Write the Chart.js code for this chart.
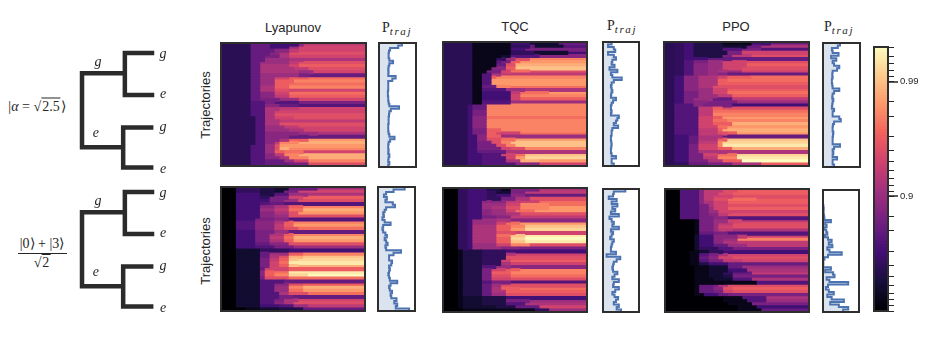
<!DOCTYPE html>
<html lang="en">
<head>
<meta charset="UTF-8">
<title>Trajectories heatmaps</title>
<script src="https://cdn.jsdelivr.net/npm/chart.js"></script>
<style>
  html, body { margin: 0; background: #fff; }
  body { position: relative; width: 926px; height: 343px; overflow: hidden; color: #262626; }
  canvas { position: absolute; }
  canvas.soft { filter: blur(0.7px); }
  .label { position: absolute; white-space: nowrap; transform: translate(-50%, -50%); font: 13px "Liberation Sans", Arial, sans-serif; }
  .vert { transform: translate(-50%, -50%) rotate(-90deg); }
  .math { font-family: "Liberation Serif", serif; font-size: 14px; }
  .math sub { font-style: italic; font-size: 11px; letter-spacing: 1.6px; vertical-align: -3px; line-height: 0; }
  .root { border-top: 1px solid #262626; padding: 0 1px; }
  .rule { position: absolute; height: 1px; background: #262626; }
</style>
</head>
<body>
<div class="label" style="left:293px;top:27px">Lyapunov</div>
<div class="label" style="left:515px;top:26px">TQC</div>
<div class="label" style="left:736px;top:26px">PPO</div>
<div class="label math" style="left:397px;top:28px">P<sub>traj</sub></div>
<div class="label math" style="left:622px;top:26px">P<sub>traj</sub></div>
<div class="label math" style="left:839px;top:27px">P<sub>traj</sub></div>
<div class="label vert" style="left:205px;top:105px">Trajectories</div>
<div class="label vert" style="left:205px;top:251px">Trajectories</div>
<div class="label math" style="left:37px;top:106px">|<i>α</i> = √<span class="root">2.5</span>⟩</div>
<div class="label math" style="left:42px;top:243px">|0⟩ + |3⟩</div>
<div class="rule" style="left:18px;top:253px;width:49px"></div>
<div class="label math" style="left:42px;top:263px">√<span class="root">2</span></div>

<script>
// each row is level,endColumn pairs, level is -10*log10(1-F)
const heatLyapunovAlpha = [
  [3.6,6,7,10,5,16,9,17,12,30],[3.6,6,7,10,5,14,10,16,13,30],[3.6,6,7,11,9,14,12,16,13,30],[3.6,6,7,10,9,12,11,14,14,30],
  [3.6,6,7,9,8,12,11,14,13,30],[3.6,6,7,9,10,14,11,17,11,30],[3.6,6,7,8,10,14,12,16,14,30],[3.6,6,7,8,11,14,13,16,15,30],
  [3.6,6,7,8,11,15,12,18,14,30],[3.6,6,7,8,11,16,10,19,13,30],[3.6,6,7,8,10,16,8,18,7,30],[3.6,6,7,8,10,11,13,14,15,18,16,30],
  [3.6,6,7,8,10,11,15,15,17,30],[3.6,6,7,8,10,11,15,14,16,30],[3.6,6,7,8,11,11,15,14,17,30],[3.6,6,7,8,11,11,14,14,13,30],
  [3.6,6,7,8,9,11,13,14,16,30],[3.6,6,7,8,9,11,12,14,15,30],[3.6,6,7,8,8,12,10,16,13,30],[3.6,6,6,9,8,11,6,16,8,30],
  [3.6,6,6,9,9,12,7,16,6,30],[3.6,6,6,9,11,12,12,16,13,30],[3.6,6,6,9,11,11,13,30],[3.6,6,6,9,11,11,14,30],
  [3.6,7,6,9,11,11,13,15,14,30],[3.6,7,6,9,11,12,12,30],[3.6,7,6,9,11,12,14,30],[3.6,7,6,9,10,13,12,16,13,30],
  [3.6,7,6,9,10,14,11,17,13,30],[3.6,7,6,9,9,16,10,20,11,30],[3.6,7,6,9,9,14,7,18,7,30],[3.6,7,6,9,9,12,11,14,15,18,18,30],
  [3.6,7,6,9,9,11,12,12,17,16,19,30],[3.6,6,6,9,10,11,14,12,18,30],[3.6,6,6,9,10,11,14,12,19,14,17,30],[3.6,6,6,9,10,11,15,13,16,17,13,30],
  [3.6,6,6,9,9,11,12,13,17,16,19,30],[3.6,6,6,9,9,12,11,14,17,18,19,30],[3.6,6,6,9,7,13,10,15,13,18,17,30],[3.6,6,6,9,7,14,8,18,14,30]
];
const heatTqcAlpha = [
  [3.6,6,1,14,5,18,2,24,7,30],[3.6,6,1,14,4,18,7,19,2,25,6,30],[3.6,6,1,14,5,17,8,30],[3.6,6,1,14,4,19,2,26,5,30],
  [3.6,6,1,12,2,14,6,20,9,30],[3.6,6,1,11,4,13,10,15,14,18,17,30],[3.6,6,1,11,6,12,8,14,15,16,18,30],[3.6,6,1,11,7,13,14,15,19,30],
  [3.6,6,1,10,9,13,15,15,20,30],[3.6,6,1,9,8,12,13,14,16,18,14,30],[3.6,6,1,8,6,10,11,12,12,30],[3.6,6,1,8,6,10,15,11,17,30],
  [3.6,6,1,8,6,10,18,30],[3.6,6,1,8,6,10,18,30],[3.6,6,1,8,7,11,17,14,16,30],[3.6,6,1,8,6,13,10,17,11,30],
  [3.6,6,1,8,5,14,12,16,16,22,18,30],[3.6,6,1,8,5,14,13,16,17,30],[3.6,6,1,8,5,14,13,16,15,30],[3.6,6,1,8,6,14,10,30],
  [3.6,5,5,6,7,9,17,30],[3.6,5,5,6,7,9,17,30],[3.6,5,5,6,8,9,17,30],[3.6,5,5,6,8,9,17,30],
  [3.6,5,5,6,9,9,16,30],[3.6,5,5,6,9,9,17,30],[3.6,5,5,6,9,9,17,30],[3.6,5,5,6,9,9,17,30],
  [3.6,5,5,6,8,9,15,12,17,30],[3.6,5,5,6,8,9,15,11,13,16,16,30],[3.6,5,5,7,9,9,15,12,10,30],[3.6,5,5,7,9,9,14,12,16,15,18,30],
  [3.6,5,5,7,8,10,14,12,17,14,20,30],[3.6,5,5,7,8,11,14,13,17,15,20,30],[3.6,5,5,7,8,12,13,14,14,17,17,30],[3.6,5,5,7,7,13,11,30],
  [3.6,5,5,8,6,12,13,15,16,17,20,30],[3.6,5,5,8,6,13,13,15,18,17,21,30],[3.6,5,5,8,6,13,11,16,19,20,18,30],[3.6,5,5,8,6,15,9,20,13,30]
];
const heatPpoAlpha = [
  [3.6,2,4,4,5,6,3,12,1,18,5,22,7,30],[3.6,2,4,4,5,6,3,12,2,17,7,20,11,30],[3.6,2,4,4,5,6,3,12,6,16,8,20,6,30],[3.6,2,4,4,5,6,3,13,8,16,13,30],
  [3.6,2,4,4,5,6,3,12,8,14,12,18,14,30],[3.6,2,4,4,5,6,5,9,7,14,7,30],[3.6,2,4,4,6,6,8,9,10,12,13,17,14,30],[3.6,2,4,4,6,6,9,9,10,12,13,17,15,30],
  [3.6,2,4,4,6,6,9,9,10,12,13,16,14,30],[3.6,2,4,4,6,6,9,9,10,11,11,13,10,16,13,30],[3.6,2,4,4,6,6,9,9,10,11,9,13,7,30],[3.6,2,5,4,9,7,11,11,13,13,15,18,16,30],
  [3.6,2,5,4,9,7,11,11,15,13,16,30],[3.6,2,5,4,9,7,11,11,15,30],[3.6,2,5,4,9,7,11,10,14,30],[3.6,2,5,4,9,7,10,10,13,13,15,30],
  [3.6,2,5,4,8,7,10,10,13,13,16,30],[3.6,2,5,4,8,7,10,11,12,14,15,30],[3.6,2,5,4,8,6,10,10,7,14,12,30],[3.6,2,5,4,8,6,9,9,8,15,10,30],
  [3.6,2,6,6,9,8,8,14,5,30],[3.6,2,6,7,12,10,15,12,14,30],[3.6,2,6,7,12,10,16,30],[3.6,2,6,7,12,10,17,30],
  [3.6,2,6,7,13,10,15,12,18,30],[3.6,2,6,7,13,10,16,13,17,30],[3.6,2,6,7,13,10,15,14,19,30],[3.6,2,6,7,13,11,16,13,18,30],
  [3.6,2,6,7,12,11,15,12,19,30],[3.6,2,6,7,12,11,14,13,15,15,18,30],[3.6,2,5,5,7,7,11,12,7,30],[3.6,2,5,5,7,7,11,11,15,13,20,30],
  [3.6,2,5,5,7,7,12,11,17,12,21,30],[3.6,2,5,5,8,7,13,11,17,12,22,30],[3.6,2,5,5,8,7,13,11,15,14,19,30],[3.6,2,5,5,8,7,11,13,11,30],
  [3.6,2,5,5,8,8,13,11,16,15,21,30],[3.6,2,5,5,8,8,12,11,17,15,22,30],[3.6,2,5,5,8,9,11,12,15,16,23,30],[3.6,2,4,5,7,9,8,14,11,20,15,30]
];
const heatLyapunovCat = [
  [0,3,4,8,3,11,2,14,7,20,10,30],[0,3,4,8,3,11,2,13,8,16,13,30],[0,3,5,8,3,11,6,14,10,18,11,30],[0,3,5,8,4,10,8,14,13,17,15,30],
  [0,3,5,8,5,10,8,13,10,16,14,30],[0,3,5,8,6,10,7,13,6,30],[0,3,5,8,9,11,11,14,15,17,17,30],[0,3,5,8,10,11,12,14,16,17,19,30],
  [0,3,5,8,9,11,11,14,14,16,18,30],[0,3,5,8,9,11,10,14,14,30],[0,3,5,7,8,11,9,14,6,30],[0,3,6,7,9,11,11,13,15,15,17,30],
  [0,3,6,7,9,11,12,13,15,15,18,30],[0,3,6,7,9,11,12,13,14,16,16,30],[0,3,5,7,8,11,10,14,7,30],[0,3,5,7,8,10,11,13,15,15,17,30],
  [0,3,5,7,8,10,12,13,16,15,19,30],[0,3,5,7,8,10,11,13,15,15,18,30],[0,3,5,7,7,10,9,14,14,30],[0,3,5,7,6,11,8,15,10,30],
  [0,3,2,8,4,14,5,30],[0,3,2,8,7,10,10,14,15,17,17,30],[0,3,2,8,7,10,11,12,14,14,19,17,20,30],[0,3,2,8,8,10,12,12,15,14,20,16,21,30],
  [0,3,2,8,8,10,13,12,16,14,22,30],[0,3,2,8,8,10,13,12,15,14,20,16,19,30],[0,3,2,8,7,9,13,14,15,30],[0,3,2,8,9,9,15,11,16,14,22,30],
  [0,3,2,8,9,9,15,11,17,14,21,18,23,30],[0,3,2,8,8,9,14,14,16,30],[0,3,2,8,6,13,7,30],[0,3,2,8,6,11,9,14,14,17,15,30],
  [0,3,2,8,6,11,10,14,17,17,19,30],[0,3,2,8,6,11,10,14,16,17,18,30],[0,3,2,8,6,12,11,14,14,18,16,30],[0,3,2,8,6,12,8,15,7,30],
  [0,3,2,8,6,11,8,13,11,16,13,30],[0,3,2,8,6,11,9,13,11,15,14,30],[0,3,2,8,5,12,6,15,10,18,12,30],[0,5,1,8,2,12,3,17,7,30]
];
const heatTqcCat = [
  [0,3,4,5,5,9,3,12,1,14,8,20,11,30],[0,3,4,5,5,9,4,11,2,14,8,17,12,30],[0,3,4,5,5,9,4,11,5,14,9,17,7,30],[0,3,4,5,5,9,4,12,8,15,11,18,14,30],
  [0,3,4,5,5,8,9,10,9,13,12,16,13,20,16,30],[0,3,4,5,5,8,10,10,10,13,13,16,17,22,16,30],[0,3,4,5,5,8,10,10,11,13,14,16,17,22,18,30],[0,3,4,5,5,8,9,10,10,13,13,15,16,19,18,30],
  [0,3,4,5,5,8,9,10,10,13,11,16,14,30],[0,3,4,5,5,8,8,11,9,14,12,30],[0,3,4,5,5,6,10,11,11,14,9,30],[0,3,4,5,5,6,10,11,13,13,16,16,18,30],
  [0,3,4,5,5,6,11,11,15,14,17,17,20,30],[0,3,4,5,5,6,11,11,15,14,18,17,21,30],[0,3,4,5,5,6,11,11,14,15,13,30],[0,3,4,5,5,6,11,11,16,14,20,17,22,30],
  [0,3,4,5,5,6,11,11,15,14,21,17,23,30],[0,3,4,5,5,6,11,11,15,14,20,17,22,30],[0,3,4,5,5,6,10,11,13,14,17,18,14,30],[0,3,4,5,5,6,10,12,9,16,8,30],
  [0,3,1,4,3,8,4,13,5,30],[0,3,1,4,3,8,4,13,11,15,13,30],[0,3,1,4,3,8,4,13,14,30],[0,3,1,4,3,8,4,12,13,14,15,30],
  [0,3,1,4,3,8,4,12,11,14,13,30],[0,3,1,4,3,8,6,11,10,14,9,30],[0,3,1,4,3,8,8,10,13,13,15,16,17,30],[0,3,1,4,3,8,8,10,15,14,17,30],
  [0,3,1,4,3,8,8,10,14,14,16,30],[0,3,1,4,3,8,8,10,13,14,14,30],[0,3,1,4,3,8,6,10,8,14,6,30],[0,3,1,4,3,8,7,10,10,12,14,30],
  [0,3,1,4,3,8,7,10,11,12,15,16,16,30],[0,3,1,4,3,8,7,10,11,13,15,30],[0,3,1,4,3,8,7,10,10,13,14,30],[0,3,1,4,2,8,3,13,5,30],
  [0,3,1,4,2,8,3,13,8,18,10,30],[0,3,1,4,2,8,3,13,6,17,11,30],[0,3,1,4,2,11,3,15,7,20,13,30],[0,4,1,14,1,19,4,22,10,30]
];
const heatPpoCat = [
  [0,3,6,7,9,8,12,12,14,15,15,30],[0,3,6,7,9,8,12,11,14,14,15,30],[0,3,6,7,9,8,12,10,13,14,14,30],[0,3,6,7,9,8,12,10,14,13,16,19,15,30],
  [0,3,6,7,9,8,11,10,13,13,15,30],[0,3,6,7,8,9,11,10,13,13,14,30],[0,3,6,7,8,9,10,10,13,13,15,30],[0,3,6,7,8,9,10,11,13,14,13,30],
  [0,3,6,7,8,9,9,11,12,13,14,30],[0,3,6,7,8,10,9,13,6,30],[0,6,1,7,8,10,10,13,13,16,12,30],[0,6,1,7,8,10,10,11,12,14,14,30],
  [0,6,1,7,8,10,10,11,13,14,14,30],[0,6,1,7,8,10,10,11,12,14,11,30],[0,6,1,7,7,10,8,13,6,30],[0,6,2,7,5,10,9,15,12,17,13,30],
  [0,6,2,7,5,10,9,12,10,15,17,30],[0,6,2,7,5,10,9,12,11,15,12,30],[0,6,2,7,5,10,7,13,10,17,12,30],[0,6,2,7,4,11,6,14,8,30],
  [0,5,1,7,2,9,4,12,5,30],[0,5,1,7,6,9,8,11,11,13,13,30],[0,5,1,7,7,9,9,11,13,14,14,30],[0,5,1,7,6,9,8,12,12,16,13,30],
  [0,5,1,7,3,9,5,13,7,30],[0,6,1,9,2,13,7,16,10,30],[0,6,1,9,2,13,5,17,11,30],[0,6,1,9,2,12,4,14,7,18,12,30],
  [0,6,1,9,2,12,3,14,8,30],[0,6,1,10,2,14,6,18,11,30],[0,6,1,12,1,19,6,30],[0,6,1,7,7,10,8,11,11,13,14,30],
  [0,6,1,7,7,10,9,12,14,14,15,30],[0,6,1,7,7,10,8,12,13,14,14,30],[0,6,1,8,5,11,7,13,8,30],[0,12,1,16,6,21,11,30],
  [0,12,1,17,6,21,10,30],[0,13,1,18,8,30],[0,15,1,19,5,30],[0,15,1,20,7,30]
];

// P_traj profiles, top row to bottom row
const ptrajLyapunovAlpha = [62,52,30,27,26,26,28,38,28,26,25,26,25,45,36,25,25,25,25,24,24,25,25,26,28,54,32,28,27,26,26,26,25,25,25,26,28,42,30,26,25,25,26,25,28,26,25,28,25,48];
const ptrajTqcAlpha = [24,14,30,34,14,30,36,26,24,32,18,40,22,26,52,30,24,22,24,26,23,22,36,28,24,22,22,24,22,44,40,36,30,42,26,24,24,22,22,23,24,23,22,22,24,36,24,24,30,52];
const ptrajPpoAlpha = [46,40,24,26,42,22,36,26,30,44,38,26,25,26,24,24,25,26,44,30,26,25,28,26,25,24,30,26,26,44,48,30,27,26,26,28,27,26,26,26,46,30,26,28,26,38,26,26,30,44];
const ptrajLyapunovCat = [72,42,22,16,24,20,40,46,22,18,14,16,12,18,34,14,12,14,20,24,18,22,26,20,22,62,42,30,30,38,36,30,32,30,28,30,32,52,34,30,32,38,34,36,50,44,52,48,84,40];
const ptrajTqcCat = [62,30,28,16,38,24,40,26,34,22,44,18,24,30,26,44,22,28,24,20,30,26,24,22,22,36,10,48,38,30,28,26,28,40,32,26,44,30,28,44,34,26,32,42,36,30,44,38,50,46];
const ptrajPpoCat = [0,0,0,0,0,0,1,2,1,2,3,4,22,6,10,4,9,12,5,14,24,16,26,12,18,52,14,4,0,1,0,22,6,28,32,10,18,70,14,8,16,30,12,24,58,20,44,70,56,98];

// colorbar: 1 - F on the log axis, only these two carry a label
const colorbarTicks = [0.01, 0.1];
const colorbarLabels = ['0.99', '0.9'];
const magmaStops = ['#000004','#180f3d','#440f76','#721f81','#9e2f7f','#cd4071','#f1605d','#fd9668','#feca8d','#fcfdbf'];
const levelMax = 23;

// tree diagram, branch units, null breaks the path
const branchX = [1.72,1.02,1.02,1.72,null,1.02,0,0,0.98,null,1.70,0.98,0.98,1.70];
const branchY = [0,0,1,1,null,0.48,0.48,2.24,2.24,null,1.77,1.77,2.72,2.72];
const branchNames = ['g','e','g','e','g','e'];
const branchNameX = [0.38,0.33,1.93,1.93,1.93,1.93];
const branchNameY = [0.21,1.90,0.02,0.98,1.76,2.76];

function hex(c) { return [1, 3, 5].map(i => parseInt(c.substr(i, 2), 16)); }

function levelColor(level) {
  const t = Math.min(level / levelMax, 1) * (magmaStops.length - 1);
  const i = Math.min(Math.floor(t), magmaStops.length - 2);
  const a = hex(magmaStops[i]), b = hex(magmaStops[i + 1]);
  const rgb = a.map((v, k) => Math.round(v + (b[k] - v) * (t - i)));
  return `rgb(${rgb.join(',')})`;
}

// dark box round the axes area
const framePlugin = {
  id: 'frame',
  afterDraw(chart) {
    const a = chart.chartArea, ctx = chart.ctx;
    ctx.save();
    ctx.strokeStyle = '#2e2e2e';
    ctx.lineWidth = 2;
    ctx.strokeRect(a.left, a.top, a.right - a.left, a.bottom - a.top);
    ctx.restore();
  }
};

function addCanvas(left, top, width, height, soft) {
  const c = document.createElement('canvas');
  c.width = width;
  c.height = height;
  c.style.left = left + 'px';
  c.style.top = top + 'px';
  c.style.width = width + 'px';
  c.style.height = height + 'px';
  if (soft) c.className = 'soft';
  document.body.appendChild(c);
  return c;
}

const base = { responsive: false, animation: false, events: [] };

function heatmap(rows, left, top, width, height) {
  const runs = Math.max(...rows.map(r => r.length / 2));
  const datasets = [];
  for (let k = 0; k < runs; k++) {
    datasets.push({
      data: rows.map(r => k * 2 < r.length ? [k ? r[k * 2 - 1] : 0, r[k * 2 + 1]] : null),
      backgroundColor: rows.map(r => k * 2 < r.length ? levelColor(r[k * 2]) : 'transparent'),
      borderWidth: 0,
      inflateAmount: 0.5,
      categoryPercentage: 1,
      barPercentage: 1,
      grouped: false
    });
  }
  new Chart(addCanvas(left - 2, top - 2, width + 4, height + 4, true), {
    type: 'bar',
    data: { labels: rows.map((r, i) => i), datasets },
    plugins: [framePlugin],
    options: {
      ...base,
      indexAxis: 'y',
      layout: { padding: 2 },
      plugins: { legend: { display: false }, tooltip: { enabled: false } },
      scales: {
        x: { display: false, min: 0, max: 30 },
        y: { display: false }
      }
    }
  });
}

function ptraj(values, left, top, width, height) {
  new Chart(addCanvas(left - 2, top - 2, width + 4, height + 4, false), {
    type: 'line',
    data: {
      labels: values.map((v, i) => i),
      datasets: [{
        data: values,
        borderColor: '#4c72b0',
        borderWidth: 2,
        backgroundColor: 'rgba(76,114,176,0.2)',
        fill: { value: 0 },
        stepped: 'after',
        pointRadius: 0
      }]
    },
    plugins: [framePlugin],
    options: {
      ...base,
      indexAxis: 'y',
      layout: { padding: 2 },
      plugins: { legend: { display: false }, tooltip: { enabled: false } },
      scales: {
        x: { display: false, min: 0, max: 100 },
        y: { display: false }
      }
    }
  });
}

function tree(top) {
  const names = {
    id: 'names',
    afterDraw(chart) {
      const ctx = chart.ctx;
      ctx.save();
      ctx.font = 'italic 14px "Liberation Serif", serif';
      ctx.fillStyle = '#262626';
      ctx.textAlign = 'center';
      ctx.textBaseline = 'middle';
      branchNames.forEach((n, i) => {
        ctx.fillText(n, chart.scales.x.getPixelForValue(branchNameX[i]), chart.scales.y.getPixelForValue(branchNameY[i]));
      });
      ctx.restore();
    }
  };
  new Chart(addCanvas(70, top, 110, 140, false), {
    type: 'scatter',
    data: {
      datasets: [{
        data: branchX.map((x, i) => ({ x, y: branchY[i] })),
        showLine: true,
        borderColor: '#2b2b2b',
        borderWidth: 4.5,
        borderJoinStyle: 'miter',
        pointRadius: 0,
        spanGaps: false
      }]
    },
    plugins: [names],
    options: {
      ...base,
      plugins: { legend: { display: false }, tooltip: { enabled: false } },
      scales: {
        x: { display: false, min: -0.286, max: 2.333 },
        y: { display: false, min: -0.31, max: 3.02, reverse: true }
      }
    }
  });
}

function colorbar() {
  const datasets = [];
  for (let d = 0; d < levelMax; d += 0.25) {
    datasets.push({
      data: [[Math.pow(10, -d / 10), Math.pow(10, -(d + 0.3) / 10)]],
      backgroundColor: levelColor(d + 0.125),
      borderWidth: 0,
      grouped: false,
      categoryPercentage: 1,
      barPercentage: 1
    });
  }
  const longTicks = {
    id: 'longTicks',
    afterDraw(chart) {
      const ctx = chart.ctx, s = chart.scales.y;
      ctx.save();
      ctx.strokeStyle = '#262626';
      ctx.lineWidth = 1.5;
      colorbarTicks.forEach(v => {
        const y = Math.round(s.getPixelForValue(v));
        ctx.beginPath();
        ctx.moveTo(s.left, y);
        ctx.lineTo(s.left + 10, y);
        ctx.stroke();
      });
      ctx.restore();
    }
  };
  new Chart(addCanvas(870, 40, 56, 280, false), {
    type: 'bar',
    data: { labels: ['F'], datasets },
    plugins: [framePlugin, longTicks],
    options: {
      ...base,
      layout: { padding: { left: 4, top: 7, bottom: 9 } },
      plugins: { legend: { display: false }, tooltip: { enabled: false } },
      scales: {
        x: { display: false },
        y: {
          type: 'logarithmic',
          position: 'right',
          reverse: true,
          min: 0.005,
          max: 1,
          afterFit(s) { s.width = 38; s.paddingTop = 0; s.paddingBottom = 0; },
          border: { display: false },
          grid: { drawOnChartArea: false, tickLength: 6, tickColor: '#262626', tickWidth: 1 },
          ticks: {
            autoSkip: false,
            maxRotation: 0,
            padding: 6,
            color: '#262626',
            font: { family: '"Liberation Sans", Arial, sans-serif', size: 9.5 },
            callback(v) {
              const i = colorbarTicks.findIndex(t => Math.abs(t - v) < t * 0.01);
              return i < 0 ? '' : colorbarLabels[i];
            }
          }
        }
      }
    }
  });
}

tree(40);
tree(179);
heatmap(heatLyapunovAlpha, 221, 43, 145, 123);
heatmap(heatTqcAlpha, 443, 42, 144, 124);
heatmap(heatPpoAlpha, 664, 42, 145, 124);
heatmap(heatLyapunovCat, 221, 187, 144, 124);
heatmap(heatTqcCat, 443, 188, 144, 124);
heatmap(heatPpoCat, 665, 189, 144, 123);
ptraj(ptrajLyapunovAlpha, 379, 43, 37, 124);
ptraj(ptrajTqcAlpha, 603, 42, 36, 124);
ptraj(ptrajPpoAlpha, 823, 43, 37, 124);
ptraj(ptrajLyapunovCat, 378, 187, 37, 124);
ptraj(ptrajTqcCat, 603, 189, 36, 123);
ptraj(ptrajPpoCat, 823, 190, 36, 122);
colorbar();
</script>
</body>
</html>
